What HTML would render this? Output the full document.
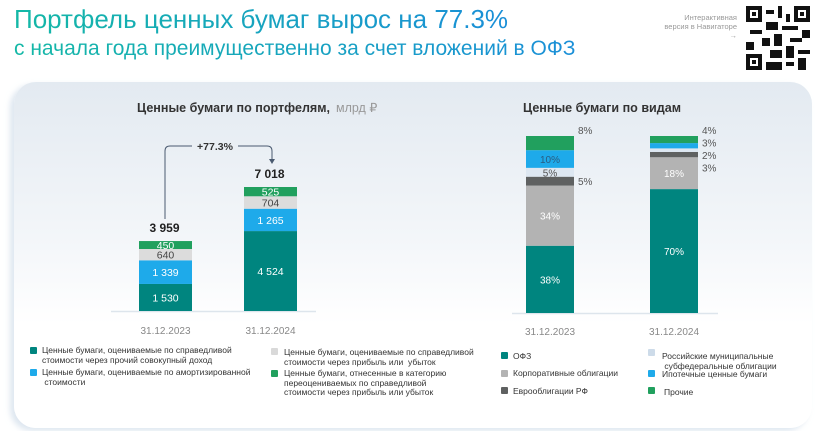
<!DOCTYPE html>
<html><head><meta charset="utf-8">
<style>
body{margin:0;width:819px;height:431px;overflow:hidden;background:#fff;font-family:"Liberation Sans","Noto Sans CJK SC",sans-serif;position:relative}
.t{position:absolute;white-space:nowrap}
.title{background:linear-gradient(90deg,#14b8a6,#1a8fd8);-webkit-background-clip:text;background-clip:text;color:transparent}
#card{position:absolute;left:14px;top:82px;width:798px;height:346px;border-radius:22px;background:linear-gradient(180deg,#e3eaf1 0%,#f3f6f9 45%,#fff 70%);box-shadow:-4px 3px 6px rgba(200,215,230,.6)}
.leg{position:absolute;font-size:8.5px;line-height:9.5px;color:#333}
.sq{position:absolute;width:7px;height:7px;border-radius:1px}
</style></head><body>
<div class="t title" style="left:14px;top:4px;font-size:26px">Портфель ценных бумаг вырос на 77.3%</div>
<div class="t title" style="left:14px;top:37px;font-size:21px">с начала года преимущественно за счет вложений в ОФЗ</div>
<div class="t" style="right:82px;top:13px;font-size:7.5px;line-height:9px;color:#999;text-align:right">Интерактивная<br>версия в Навигаторе<br>→</div>
<svg style="position:absolute;left:746px;top:6px" width="64" height="64" viewBox="0 0 16 16">
<rect width="16" height="16" fill="#fff"/>
<g fill="#111"><rect x="0" y="0" width="4" height="4"/><rect x="12" y="0" width="4" height="4"/><rect x="0" y="12" width="4" height="4"/>
<rect x="5" y="1" width="2" height="1"/><rect x="8" y="0" width="1" height="3"/><rect x="10" y="2" width="1" height="2"/><rect x="5" y="4" width="3" height="2"/><rect x="1" y="6" width="3" height="1"/><rect x="9" y="5" width="4" height="1"/><rect x="14" y="6" width="2" height="2"/><rect x="4" y="8" width="2" height="2"/><rect x="7" y="7" width="2" height="3"/><rect x="11" y="8" width="3" height="1"/><rect x="0" y="9" width="2" height="2"/><rect x="10" y="10" width="2" height="3"/><rect x="6" y="11" width="3" height="2"/><rect x="13" y="11" width="3" height="1"/><rect x="5" y="14" width="4" height="2"/><rect x="13" y="13" width="2" height="3"/><rect x="10" y="14" width="2" height="1"/></g>
<g fill="#fff"><rect x="1" y="1" width="2" height="2"/><rect x="13" y="1" width="2" height="2"/><rect x="1" y="13" width="2" height="2"/></g>
<g fill="#111"><rect x="1.5" y="1.5" width="1" height="1"/><rect x="13.5" y="1.5" width="1" height="1"/><rect x="1.5" y="13.5" width="1" height="1"/></g>
</svg>
<div id="card"></div>
<svg id="chart" width="819" height="431" style="position:absolute;left:0;top:0" font-family="Liberation Sans, sans-serif"></svg>

<div class="sq" style="left:30px;top:347px;background:#00857f"></div>
<div class="leg" style="left:42px;top:346px">Ценные бумаги, оцениваемые по справедливой<br>стоимости через прочий совокупный доход</div>
<div class="sq" style="left:30px;top:369px;background:#1eaaea"></div>
<div class="leg" style="left:42px;top:368px">Ценные бумаги, оцениваемые по амортизированной<br>&nbsp;стоимости</div>
<div class="sq" style="left:271px;top:348px;background:#d9d9d9"></div>
<div class="leg" style="left:284px;top:348px">Ценные бумаги, оцениваемые по справедливой<br>стоимости через прибыль или&nbsp; убыток</div>
<div class="sq" style="left:271px;top:370px;background:#21a05e"></div>
<div class="leg" style="left:284px;top:369px">Ценные бумаги, отнесенные в категорию<br>переоцениваемых по справедливой<br>стоимости через прибыль или убыток</div>

<div class="sq" style="left:501px;top:352px;background:#00857f"></div>
<div class="leg" style="left:513px;top:352px">ОФЗ</div>
<div class="sq" style="left:501px;top:370px;background:#b3b3b3"></div>
<div class="leg" style="left:513px;top:369px">Корпоративные облигации</div>
<div class="sq" style="left:501px;top:387px;background:#5f6161"></div>
<div class="leg" style="left:513px;top:387px">Еврооблигации РФ</div>
<div class="sq" style="left:648px;top:349px;background:#cddbe9"></div>
<div class="leg" style="left:662px;top:352px">Российские муниципальные<br>&nbsp;субфедеральные облигации</div>
<div class="sq" style="left:648px;top:370px;background:#1eaaea"></div>
<div class="leg" style="left:662px;top:370px">Ипотечные ценные бумаги</div>
<div class="sq" style="left:648px;top:387px;background:#21a05e"></div>
<div class="leg" style="left:664px;top:388px">Прочие</div>

<script>
const portCategories=['31.12.2023','31.12.2024'];
const portFvoci=[1530,4524];
const portAmort=[1339,1265];
const portFvtpl=[640,704];
const portReclass=[450,525];
const portTotals=['3 959','7 018'];
const portLabels=[['1 530','1 339','640','450'],['4 524','1 265','704','525']];

const typeCategories=['31.12.2023','31.12.2024'];
const typeOfz=[38,70];
const typeCorp=[34,18];
const typeEuro=[5,3];
const typeMuni=[5,2];
const typeMortgage=[10,3];
const typeOther=[8,4];

const NS='http://www.w3.org/2000/svg';
const svg=document.getElementById('chart');
function mk(tag,attrs,parent){const e=document.createElementNS(NS,tag);for(const k in attrs)e.setAttribute(k,attrs[k]);(parent||svg).appendChild(e);return e;}
function txt(x,y,s,attrs){const e=mk('text',Object.assign({x:x,y:y},attrs));e.textContent=s;return e;}

// titles
let ti=txt(137,112,'Ценные бумаги по портфелям,',{'font-size':12.5,'font-weight':'bold',fill:'#333',textLength:193,lengthAdjust:'spacingAndGlyphs'});

let tu=txt(336,112,'млрд ₽',{'font-size':12.5,fill:'#999'});

let t2=txt(523,112,'Ценные бумаги по видам',{'font-size':12.5,'font-weight':'bold',fill:'#333',textLength:158,lengthAdjust:'spacingAndGlyphs'});


// left chart
const lBase=311,lScale=124/7018,lX=[139,244],lW=53;
const yL=v=>lBase-v*lScale;
let bl=mk('line',{x1:111,x2:316,y1:lBase+0.5,y2:lBase+0.5,stroke:'#dde5ec','stroke-width':1.5});

const lSeries=[portFvoci,portAmort,portFvtpl,portReclass];
const lColors=['#00857f','#1eaaea','#dcdcdc','#21a05e'];
const lText=['#fff','#fff','#444','#fff'];
const lNames=['fvoci','amortized','fvtpl','reclassified'];
const lTops=[];
portCategories.forEach((c,i)=>{
  let cum=0;
  lSeries.forEach((s,j)=>{
    const y0=yL(cum),y1=yL(cum+s[i]);
    const r=mk('rect',{x:lX[i],y:y1,width:lW,height:y0-y1,fill:lColors[j]});
    
    
    txt(lX[i]+lW/2,(y0+y1)/2+4,portLabels[i][j],{'font-size':10.5,fill:lText[j],'text-anchor':'middle'});
    cum+=s[i];
  });
  lTops.push(yL(cum));
  const tt=txt(lX[i]+lW/2-1,yL(cum)-9,portTotals[i],{'font-size':12,'font-weight':'bold',fill:'#222','text-anchor':'middle'});
  
  const d=txt(lX[i]+lW/2,334,c,{'font-size':10,fill:'#888','text-anchor':'middle'});
  
});
// growth arrow
const ax1=165,ax2=272,ay=146;
let ap=mk('path',{d:`M${ax1} ${lTops[0]-22} V${ay+5} Q${ax1} ${ay} ${ax1+5} ${ay} H${192} M${238} ${ay} H${ax2-5} Q${ax2} ${ay} ${ax2} ${ay+5} V${lTops[1]-25}`,fill:'none',stroke:'#4a5a70','stroke-width':1});

mk('path',{d:`M${ax2-3} ${lTops[1]-28} L${ax2} ${lTops[1]-23} L${ax2+3} ${lTops[1]-28} Z`,fill:'#4a5a70'});
let gl=txt(215,150,'+77.3%',{'font-size':10.5,'font-weight':'bold',fill:'#333','text-anchor':'middle'});


// right chart
const rBase=313,rScale=177/100,rX=[526,650],rW=48;
const yR=v=>rBase-v*rScale;
let br=mk('line',{x1:512,x2:718,y1:rBase+0.5,y2:rBase+0.5,stroke:'#dde5ec','stroke-width':1.5});

const rSeries=[typeOfz,typeCorp,typeEuro,typeMuni,typeMortgage,typeOther];
const rColors=['#00857f','#b3b3b3','#5f6161','#dde7f1','#1eaaea','#21a05e'];
const rNames=['ofz','corporate','eurobonds','municipal','mortgage','other'];
typeCategories.forEach((c,i)=>{
  let cum=0;
  const outside=[];
  rSeries.forEach((s,j)=>{
    const y0=yR(cum),y1=yR(cum+s[i]);
    const r=mk('rect',{x:rX[i],y:y1,width:rW,height:y0-y1,fill:rColors[j]});
    
    
    const lab=s[i]+'%';
    const h=y0-y1;
    if(h>=14 && j!==5) txt(rX[i]+rW/2,(y0+y1)/2+4,lab,{'font-size':10,fill:j==4?'#2b5c80':(j==3?'#555':'#fff'),'text-anchor':'middle'});
    else if(h>=8 && j===3) txt(rX[i]+rW/2,(y0+y1)/2+4,lab,{'font-size':10,fill:'#555','text-anchor':'middle'});
    else outside.push([lab,(y0+y1)/2,j]);
    cum+=s[i];
  });
  if(i===0){
    outside.forEach(o=>{const yy=o[2]===5?yR(cum)-2:o[1]+4;txt(rX[i]+rW+4,yy,o[0],{'font-size':10,fill:'#555'});});
  }else{
    outside.sort((a,b)=>a[1]-b[1]);
    outside.forEach((o,k)=>txt(rX[i]+rW+4,yR(cum)-2+k*12.5,o[0],{'font-size':10,fill:'#555'}));
  }
  const d=txt(rX[i]+rW/2,335,c,{'font-size':10,fill:'#888','text-anchor':'middle'});
  
});
</script>
</body></html>
